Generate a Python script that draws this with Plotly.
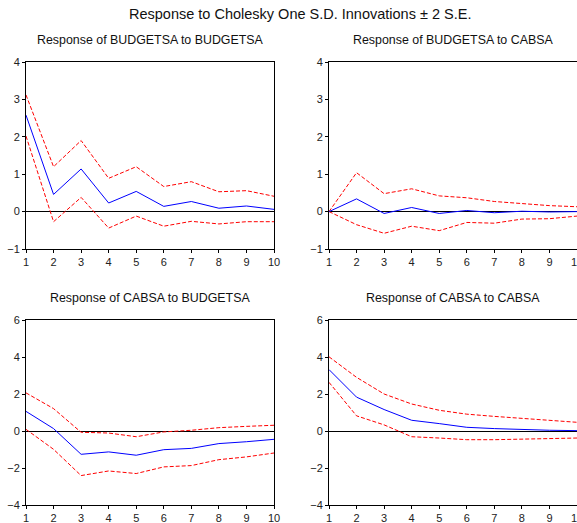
import plotly.graph_objects as go

periods = [1, 2, 3, 4, 5, 6, 7, 8, 9, 10]

titles = ["Response of BUDGETSA to BUDGETSA", "Response of BUDGETSA to CABSA",
          "Response of CABSA to BUDGETSA", "Response of CABSA to CABSA"]

bb_resp = [2.58, 0.46, 1.14, 0.23, 0.54, 0.14, 0.27, 0.09, 0.15, 0.06]
bb_upper = [3.12, 1.20, 1.90, 0.89, 1.20, 0.67, 0.80, 0.53, 0.56, 0.41]
bb_lower = [2.02, -0.27, 0.38, -0.44, -0.12, -0.39, -0.26, -0.33, -0.27, -0.27]

bc_resp = [0.0, 0.34, -0.05, 0.11, -0.05, 0.03, -0.03, 0.01, -0.01, 0.0]
bc_upper = [0.0, 1.04, 0.48, 0.61, 0.42, 0.37, 0.27, 0.21, 0.16, 0.13]
bc_lower = [0.0, -0.35, -0.58, -0.39, -0.51, -0.29, -0.31, -0.20, -0.19, -0.12]

cb_resp = [1.06, 0.13, -1.26, -1.13, -1.31, -1.01, -0.94, -0.68, -0.58, -0.45]
cb_upper = [2.06, 1.21, -0.07, -0.11, -0.31, -0.05, 0.04, 0.18, 0.25, 0.31]
cb_lower = [0.09, -0.99, -2.41, -2.16, -2.30, -1.94, -1.87, -1.55, -1.40, -1.19]

cc_resp = [3.32, 1.83, 1.16, 0.58, 0.40, 0.20, 0.13, 0.07, 0.04, 0.02]
cc_upper = [4.01, 2.90, 2.00, 1.46, 1.12, 0.91, 0.79, 0.67, 0.58, 0.47]
cc_lower = [2.63, 0.82, 0.33, -0.31, -0.38, -0.47, -0.47, -0.45, -0.41, -0.38]

top_ticks = [-1, 0, 1, 2, 3, 4]
bottom_ticks = [-4, -2, 0, 2, 4, 6]

W, H = 577, 523
panels = [
    (bb_resp, bb_upper, bb_lower, (26, 274), (62, 249), [-1, 4], top_ticks),
    (bc_resp, bc_upper, bc_lower, (329, 577), (62, 249), [-1, 4], top_ticks),
    (cb_resp, cb_upper, cb_lower, (26, 274), (320, 505), [-4, 6], bottom_ticks),
    (cc_resp, cc_upper, cc_lower, (329, 577), (320, 505), [-4, 6], bottom_ticks),
]

fig = go.Figure()
layout = dict(
    width=W, height=H, margin=dict(l=0, r=0, t=0, b=0),
    paper_bgcolor="white", plot_bgcolor="white", showlegend=False,
    font=dict(family="Liberation Sans, Arial, sans-serif", color="#222222"),
)
annotations = [dict(text="Response to Cholesky One S.D. Innovations \u00b1 2 S.E.",
                    x=300 / W, y=1 - 14 / H, xref="paper", yref="paper",
                    showarrow=False, font=dict(size=14.5, color="#111111"),
                    xanchor="center", yanchor="middle")]

for i, (resp, up, lo, (x0, x1), (y0, y1), yr, yt) in enumerate(panels):
    n = "" if i == 0 else str(i + 1)
    xa, ya = "x" + n, "y" + n
    for vals, col, dash in [(up, "red", "4px,2px"), (lo, "red", "4px,2px"), (resp, "blue", "solid")]:
        fig.add_trace(go.Scatter(x=periods, y=vals, mode="lines", xaxis=xa, yaxis=ya,
                                 line=dict(color=col, width=1, dash=dash), hoverinfo="skip"))
    layout["xaxis" + n] = dict(domain=[x0 / W, min(x1 / W, 1.0)], anchor=ya, range=[1, 10],
                               tickvals=periods, ticks="outside", ticklen=3, tickcolor="black",
                               showline=True, linecolor="black", linewidth=1, mirror=True,
                               showgrid=False, zeroline=False, tickfont=dict(size=11),
                               automargin=False, ticklabeloverflow="allow")
    layout["yaxis" + n] = dict(domain=[1 - y1 / H, 1 - y0 / H], anchor=xa, range=yr,
                               tickvals=yt, ticks="outside", ticklen=3, tickcolor="black",
                               showline=True, linecolor="black", linewidth=1, mirror=True,
                               showgrid=False, zeroline=True, zerolinecolor="black",
                               zerolinewidth=1, tickfont=dict(size=11), automargin=False,
                               ticklabeloverflow="allow")
    ty = 40 if y0 < 200 else 298
    annotations.append(dict(text=titles[i], x=(x0 + x1) / 2 / W, y=1 - ty / H,
                            xref="paper", yref="paper", showarrow=False,
                            font=dict(size=12.4, color="#111111"),
                            xanchor="center", yanchor="middle"))

layout["annotations"] = annotations
fig.update_layout(**layout)
fig.write_html("out.html", config={"displayModeBar": False},
               post_script="document.body.style.margin='0';document.body.style.overflow='hidden';")
